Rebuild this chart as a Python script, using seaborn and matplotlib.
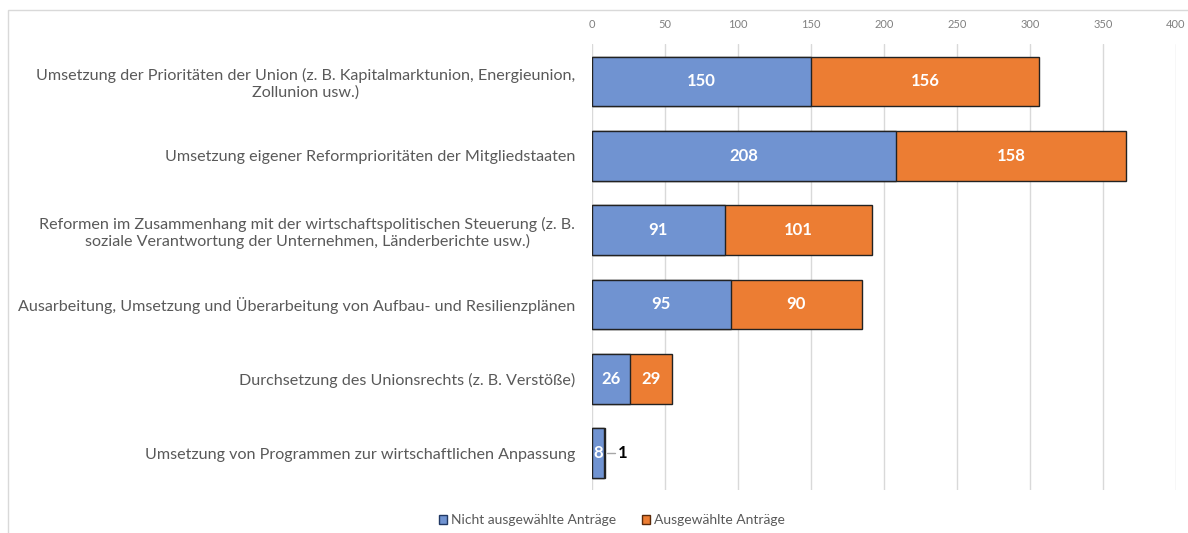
import numpy as np
import pandas as pd
import matplotlib
matplotlib.use("Agg")
import matplotlib.pyplot as plt
import matplotlib.patches as mpatches
import seaborn as sns

categories = [
    "Umsetzung der Prioritäten der Union (z. B. Kapitalmarktunion, Energieunion,\nZollunion usw.)",
    "Umsetzung eigener Reformprioritäten der Mitgliedstaaten",
    "Reformen im Zusammenhang mit der wirtschaftspolitischen Steuerung (z. B.\nsoziale Verantwortung der Unternehmen, Länderberichte usw.)",
    "Ausarbeitung, Umsetzung und Überarbeitung von Aufbau- und Resilienzplänen",
    "Durchsetzung des Unionsrechts (z. B. Verstöße)",
    "Umsetzung von Programmen zur wirtschaftlichen Anpassung",
]
not_selected = [150, 208, 91, 95, 26, 8]
selected = [156, 158, 101, 90, 29, 1]

blue = "#7093D1"
orange = "#EC7D33"
grey_text = "#595959"

sns.set_theme(style="white")
plt.rcParams["font.family"] = ["Lato", "DejaVu Sans"]

df = pd.DataFrame({"cat": categories, "nicht": not_selected, "aus": selected})
df["total"] = df["nicht"] + df["aus"]

fig = plt.figure(figsize=(11.88, 5.33), dpi=100)
ax = fig.add_axes([0.4983, 0.08, 0.4916, 0.837])

# stacked bars: total (orange) underneath, blue part on top
sns.barplot(data=df, y="cat", x="total", color=orange, saturation=1,
            edgecolor="#222222", linewidth=1.0, width=0.67, ax=ax)
sns.barplot(data=df, y="cat", x="nicht", color=blue, saturation=1,
            edgecolor="#222222", linewidth=1.0, width=0.67, ax=ax)

ax.set_xlim(0, 400)
ax.set_ylim(5.5, -0.5)
ax.set_xticks(np.arange(0, 401, 50))
ax.xaxis.tick_top()
ax.tick_params(axis="x", labelsize=8, colors="#808080", length=0, pad=10)
ax.tick_params(axis="y", labelsize=11.6, colors=grey_text, length=0, pad=12)
for lab in ax.get_yticklabels():
    lab.set_multialignment("center")
ax.set_xlabel("")
ax.set_ylabel("")
ax.grid(axis="x", color="#d9d9d9", linewidth=1)
ax.set_axisbelow(True)
for s in ax.spines.values():
    s.set_visible(False)

# data labels
for i, (a, b) in enumerate(zip(not_selected, selected)):
    ax.text(a / 2, i, str(a), ha="center", va="center", color="white",
            fontsize=12, fontweight="bold")
    if b >= 10:
        ax.text(a + b / 2, i, str(b), ha="center", va="center", color="white",
                fontsize=12, fontweight="bold")
    else:
        ax.plot([a + b + 1, a + b + 7], [i, i], color="#a6a6a6", linewidth=1)
        ax.text(a + b + 9, i, str(b), ha="left", va="center", color="black",
                fontsize=12, fontweight="bold")

# legend
handles = [
    mpatches.Patch(facecolor=blue, edgecolor="#203864", label="Nicht ausgewählte Anträge"),
    mpatches.Patch(facecolor=orange, edgecolor="#5a2a0a", label="Ausgewählte Anträge"),
]
fig.legend(handles=handles, loc="center", bbox_to_anchor=(0.515, 0.024), ncol=2,
           frameon=False, fontsize=10, labelcolor=grey_text, handlelength=0.6,
           handleheight=0.6, handletextpad=0.25, columnspacing=1.9)

# outer frame
fig.patches.append(mpatches.Rectangle((0.007, -0.01), 1.0, 0.992, transform=fig.transFigure,
                                      fill=False, edgecolor="#d9d9d9", linewidth=1))

fig.savefig("out.png", dpi=100)
